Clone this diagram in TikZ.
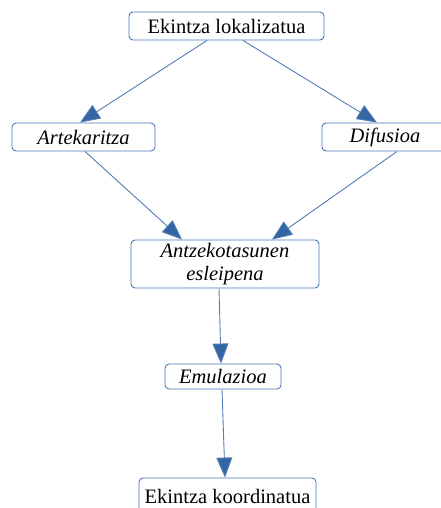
\documentclass[tikz,border=0pt]{standalone}
\usepackage{fontspec}
\setmainfont{Liberation Serif}
\usetikzlibrary{arrows.meta}
\definecolor{boxblue}{RGB}{74,118,182}
\definecolor{arrblue}{RGB}{52,101,164}

\begin{document}
\begin{tikzpicture}[x=1pt, y=-1pt, font=\fontsize{20.5}{23}\selectfont,
    main/.style = {draw=boxblue, line width=0.9pt, rounded corners=4pt, inner sep=0pt, align=center},
    link/.style = {draw=arrblue!85, line width=0.9pt, -{Triangle[length=20pt,width=16pt,fill=arrblue]}}]
    \useasboundingbox (0,0) rectangle (441,508);
    \node[main, minimum width=195pt, minimum height=28pt] (lok) at (226.5,26) {Ekintza lokalizatua};
    \node[main, minimum width=143pt, minimum height=28pt] (art) at (83.5,137) {\itshape Artekaritza};
    \node[main, minimum width=126pt, minimum height=28pt] (dif) at (385,137) {\itshape Difusioa};
    \node[main, minimum width=188pt, minimum height=48pt] (esl) at (225,264) {\itshape Antzekotasunen\\ \itshape esleipena};
    \node[main, minimum width=116pt, minimum height=25pt] (emu) at (223,376.5) {\itshape Emulazioa};
    \node[main, minimum width=177pt, minimum height=36pt] (koo) at (227.5,496) {\raisebox{-4pt}{Ekintza koordinatua}};
    \draw[link] ([xshift=-19.5pt]lok.south) -- ([xshift=-3.5pt]art.north);
    \draw[link] ([xshift=16.5pt]lok.south) -- ([xshift=-8pt]dif.north);
    \draw[link] ([xshift=1.5pt]art.south) -- ([xshift=-43pt]esl.north);
    \draw[link] ([xshift=12pt]dif.south) -- ([xshift=47pt]esl.north);
    \draw[link] ([xshift=-6pt]esl.south) -- ([xshift=-2pt]emu.north);
    \draw[link] ([xshift=-1pt]emu.south) -- ([xshift=-2.5pt]koo.north);
  \end{tikzpicture}
\end{document}
